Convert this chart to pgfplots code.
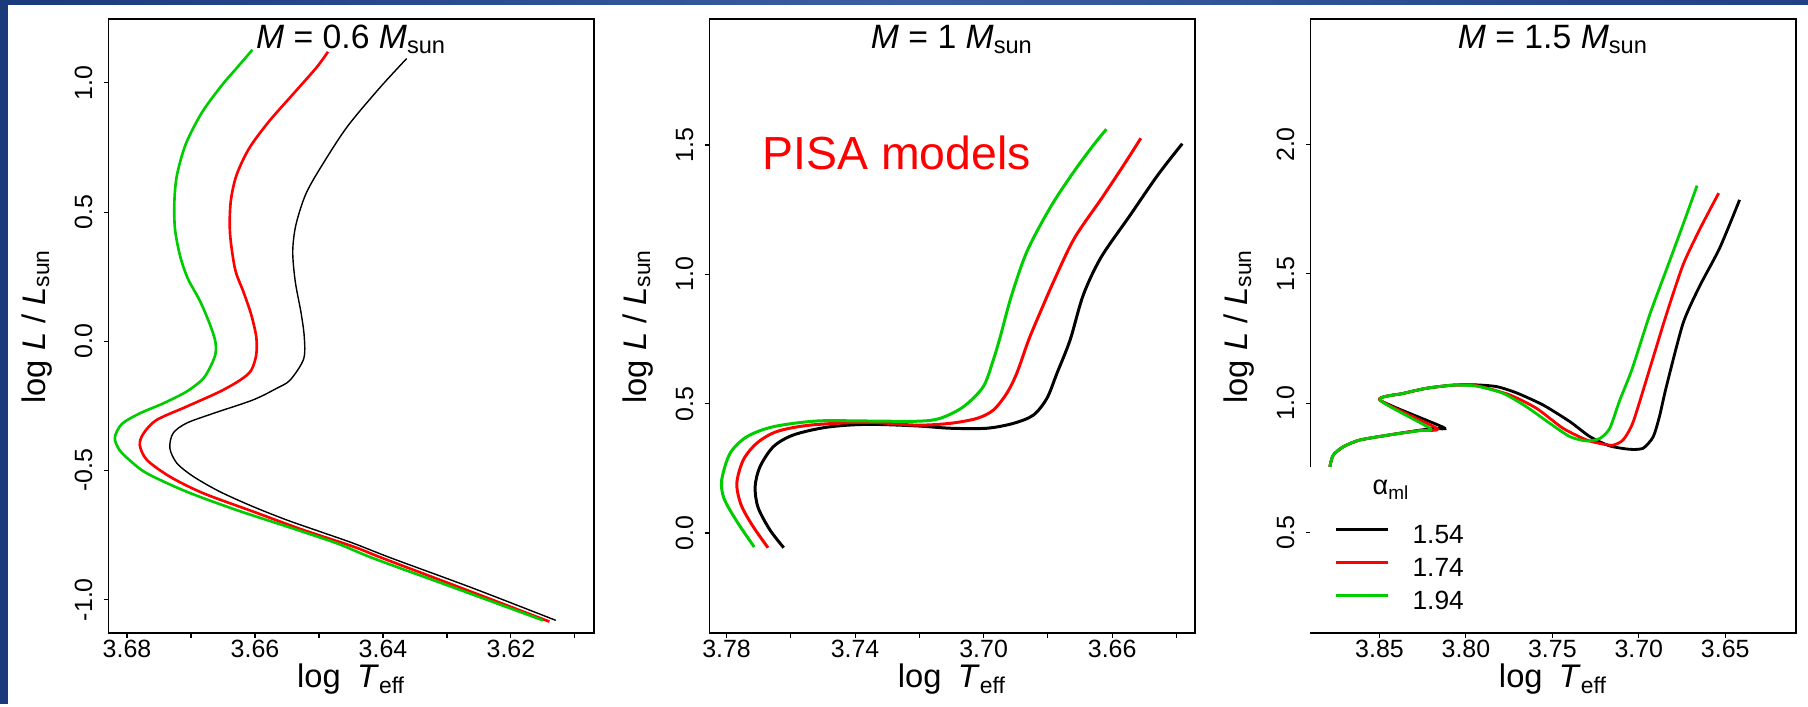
\documentclass[border=0pt]{standalone}
\usepackage{fontspec}
\setmainfont{Liberation Sans}
\usepackage{pgfplots}
\pgfplotsset{compat=1.18}
\definecolor{rgreen}{HTML}{00CD00}
\definecolor{slideblue}{HTML}{1A3A7C}
\definecolor{slidelight}{HTML}{3C5DA2}

\pgfplotsset{
  hrd/.style={
    scale only axis, width=48.56mm, height=61.37mm,
    x dir=reverse, clip=false,
    axis line style={line width=0.45pt},
    tick align=outside, xtick pos=bottom, ytick pos=left,
    major tick length=0.5mm, tick style={line width=0.3pt, black},
    xticklabel style={font=\fontsize{7.1}{8}\selectfont, inner sep=0.4pt, anchor=north},
    yticklabel style={font=\fontsize{7.1}{8}\selectfont, rotate=90, anchor=south, inner sep=3pt},
    every axis x label/.style={at={(axis description cs:0.5,-0.0896)}, anchor=base,
      font=\fontsize{9.3}{11}\selectfont},
    every axis y label/.style={at={(axis description cs:-0.1297,0.5)}, rotate=90, anchor=base,
      font=\fontsize{9.3}{11}\selectfont},
    every axis title/.style={at={(axis description cs:0.5,0.9524)}, anchor=base,
      font=\fontsize{9.6}{11}\selectfont},
    xlabel={log\hspace{0.5em}\textit{T}\textsubscript{eff}},
    ylabel={log \textit{L} / \textit{L}\textsubscript{sun}},
  },
}

\begin{document}
\begin{tikzpicture}
\fill[white] (0,0) rectangle (180.8mm,70.4mm);
\fill[slideblue] (0,0) rectangle (0.77mm,70.4mm);
\shade[left color=slideblue, right color=slideblue!80!slidelight, middle color=slidelight]
  (0,69.9mm) rectangle (180.8mm,70.4mm);

% ---- M = 0.6
\begin{axis}[hrd, at={(10.87mm,7.1mm)}, anchor=south west,
  xmin=3.60698, xmax=3.68286, ymin=-1.129, ymax=1.246,
  xtick={3.61,3.62,3.63,3.64,3.65,3.66,3.67,3.68},
  xticklabels={{},3.62,{},3.64,{},3.66,{},3.68},
  ytick={-1,-0.5,0,0.5,1}, yticklabels={-1.0,-0.5,0.0,0.5,1.0},
  title={\textit{M} = 0.6 \textit{M}\textsubscript{sun}}]
\addplot[black, line width=0.4pt, smooth, tension=0.5] coordinates {
 (3.6363,1.094) (3.6405,0.981) (3.6455,0.833) (3.6492,0.694) (3.6520,0.573)
 (3.6536,0.451) (3.6541,0.347) (3.6537,0.230) (3.6528,0.110) (3.6523,0.017)
 (3.6524,-0.069) (3.6545,-0.150) (3.6566,-0.182) (3.6603,-0.227) (3.6665,-0.279)
 (3.6707,-0.317) (3.6728,-0.356) (3.6733,-0.414) (3.6722,-0.472) (3.6696,-0.524)
 (3.6655,-0.582) (3.6603,-0.640) (3.6550,-0.692) (3.6498,-0.737) (3.6446,-0.782)
 (3.6386,-0.840) (3.6260,-0.955) (3.6130,-1.080)};
\addplot[red, line width=0.75pt, smooth, tension=0.5] coordinates {
 (3.6486,1.120) (3.6504,1.059) (3.6541,0.955) (3.6578,0.851) (3.6609,0.747)
 (3.6629,0.642) (3.6638,0.538) (3.6639,0.417) (3.6631,0.278) (3.6618,0.191)
 (3.6606,0.104) (3.6598,0.017) (3.6598,-0.052) (3.6606,-0.113) (3.6623,-0.150)
 (3.6655,-0.195) (3.6707,-0.253) (3.6754,-0.305) (3.6774,-0.356) (3.6780,-0.401)
 (3.6769,-0.459) (3.6733,-0.524) (3.6681,-0.588) (3.6603,-0.659) (3.6525,-0.730)
 (3.6446,-0.795) (3.6400,-0.840) (3.6270,-0.962) (3.6140,-1.085)};
\addplot[rgreen, line width=0.75pt, smooth, tension=0.5] coordinates {
 (3.6604,1.128) (3.6628,1.059) (3.6652,0.990) (3.6683,0.885) (3.6708,0.764)
 (3.6722,0.642) (3.6726,0.538) (3.6725,0.434) (3.6717,0.330) (3.6705,0.243)
 (3.6686,0.156) (3.6671,0.069) (3.6662,0.000) (3.6662,-0.052) (3.6672,-0.110)
 (3.6683,-0.150) (3.6707,-0.195) (3.6743,-0.240) (3.6780,-0.279) (3.6808,-0.320)
 (3.6819,-0.373) (3.6812,-0.420) (3.6796,-0.460) (3.6769,-0.511) (3.6707,-0.582)
 (3.6629,-0.653) (3.6550,-0.717) (3.6472,-0.782) (3.6415,-0.840) (3.6282,-0.960)
 (3.6150,-1.080)};
\end{axis}

% ---- M = 1
\begin{axis}[hrd, at={(70.95mm,7.1mm)}, anchor=south west,
  xmin=3.6342, xmax=3.7853, ymin=-0.3866, ymax=1.986,
  xtick={3.64,3.66,3.68,3.70,3.72,3.74,3.76,3.78},
  xticklabels={{},3.66,{},3.70,{},3.74,{},3.78},
  ytick={0,0.5,1,1.5}, yticklabels={0.0,0.5,1.0,1.5},
  title={\textit{M} = 1 \textit{M}\textsubscript{sun}}]
\addplot[black, line width=0.85pt, smooth, tension=0.5] coordinates {
 (3.7622,-0.057) (3.7665,0.012) (3.7702,0.099) (3.7711,0.179) (3.7696,0.256)
 (3.7654,0.334) (3.7592,0.379) (3.7488,0.409) (3.7364,0.420) (3.7208,0.414)
 (3.7104,0.405) (3.6990,0.405) (3.6907,0.424) (3.6845,0.456) (3.6803,0.521)
 (3.6772,0.617) (3.6731,0.746) (3.6690,0.920) (3.6635,1.065) (3.6545,1.227)
 (3.6458,1.384) (3.6382,1.505)};
\addplot[red, line width=0.85pt, smooth, tension=0.5] coordinates {
 (3.7671,-0.057) (3.7720,0.030) (3.7755,0.110) (3.7768,0.192) (3.7748,0.282)
 (3.7706,0.347) (3.7644,0.392) (3.7540,0.417) (3.7364,0.428) (3.7208,0.417)
 (3.7104,0.424) (3.7021,0.443) (3.6970,0.475) (3.6928,0.540) (3.6897,0.617)
 (3.6860,0.746) (3.6825,0.850) (3.6778,0.984) (3.6717,1.141) (3.6631,1.297)
 (3.6557,1.436) (3.6511,1.526)};
\addplot[rgreen, line width=0.85pt, smooth, tension=0.5] coordinates {
 (3.7714,-0.054) (3.7769,0.047) (3.7808,0.134) (3.7815,0.205) (3.7789,0.308)
 (3.7737,0.372) (3.7654,0.411) (3.7519,0.433) (3.7364,0.433) (3.7208,0.432)
 (3.7136,0.443) (3.7063,0.488) (3.7001,0.566) (3.6970,0.669) (3.6948,0.760)
 (3.6914,0.915) (3.6865,1.089) (3.6791,1.262) (3.6717,1.401) (3.6655,1.505)
 (3.6618,1.561)};
\node[anchor=base west, text=red, inner sep=0pt, font=\fontsize{13.2}{16}\selectfont]
  at (axis cs:3.7690,1.404) {PISA models};
\end{axis}

% ---- M = 1.5
\begin{axis}[hrd, at={(131.05mm,7.1mm)}, anchor=south west,
  xmin=3.609, xmax=3.8899, ymin=0.112, ymax=2.484,
  xtick={3.65,3.70,3.75,3.80,3.85},
  xticklabels={3.65,3.70,3.75,3.80,3.85},
  ytick={0.5,1,1.5,2}, yticklabels={0.5,1.0,1.5,2.0},
  title={\textit{M} = 1.5 \textit{M}\textsubscript{sun}},
  legend style={draw=none, fill=none, inner sep=0pt,
    at={(axis description cs:0.0484,0.1825)}, anchor=north west,
    column sep=2.3mm, row sep=0pt, font=\fontsize{7.5}{9}\selectfont,
    nodes={inner sep=0pt, text height=2.2mm, text depth=1.1mm}},
  legend cell align=left,
  legend image code/.code={\draw[#1] (0mm,0.9mm) -- (5.2mm,0.9mm);}]
\addplot[black, line width=0.8pt, smooth, tension=0.4] coordinates {
 (3.8790,0.70) (3.8786,0.757) (3.8767,0.800) (3.8709,0.832) (3.8613,0.858)
 (3.8420,0.880) (3.8266,0.896) (3.8180,0.903) (3.8131,0.907) (3.8497,1.012)
 (3.8362,1.038) (3.8227,1.058) (3.8073,1.070) (3.7938,1.071) (3.7820,1.064)
 (3.7707,1.040) (3.7553,0.993) (3.7399,0.929) (3.7283,0.871) (3.7168,0.835)
 (3.7052,0.822) (3.6975,0.826) (3.6917,0.870) (3.6880,0.950) (3.6840,1.066)
 (3.6744,1.309) (3.6650,1.450) (3.6532,1.600) (3.6417,1.786)};
\addlegendentry{1.54}
\addplot[red, line width=0.8pt, smooth, tension=0.4] coordinates {
 (3.8790,0.70) (3.8786,0.757) (3.8767,0.800) (3.8709,0.832) (3.8613,0.858)
 (3.8420,0.880) (3.8266,0.895) (3.8169,0.903) (3.8497,1.012)
 (3.8362,1.038) (3.8227,1.058) (3.8073,1.070) (3.7938,1.068) (3.7746,1.032)
 (3.7591,0.980) (3.7438,0.903) (3.7302,0.858) (3.7206,0.842) (3.7149,0.838)
 (3.7091,0.858) (3.7033,0.927) (3.6936,1.135) (3.6840,1.344) (3.6744,1.535)
 (3.6647,1.673) (3.6538,1.812)};
\addlegendentry{1.74}
\addplot[rgreen, line width=0.8pt, smooth, tension=0.4] coordinates {
 (3.8790,0.70) (3.8786,0.757) (3.8767,0.800) (3.8709,0.832) (3.8613,0.858)
 (3.8420,0.880) (3.8266,0.894) (3.8208,0.903) (3.8497,1.012)
 (3.8362,1.038) (3.8227,1.058) (3.8073,1.070) (3.7938,1.066) (3.7784,1.038)
 (3.7649,0.986) (3.7514,0.922) (3.7399,0.871) (3.7302,0.854) (3.7225,0.864)
 (3.7168,0.903) (3.7110,1.012) (3.7040,1.130) (3.6936,1.344) (3.6840,1.517)
 (3.6744,1.691) (3.6663,1.841)};
\addlegendentry{1.94}
\fill[white] (axis cs:3.89046,0.7534) rectangle (axis cs:3.81,0.117);
\node[anchor=base west, inner sep=0pt, font=\fontsize{7.7}{9}\selectfont]
  at (axis description cs:0.1266,0.2249) {α\textsubscript{ml}};
\end{axis}
\end{tikzpicture}
\end{document}
